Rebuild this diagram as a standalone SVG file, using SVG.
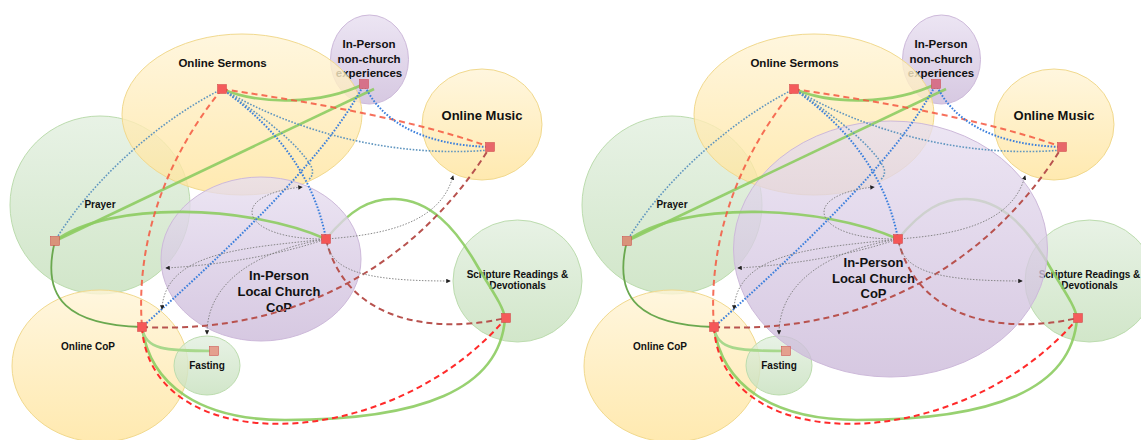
<svg xmlns="http://www.w3.org/2000/svg" xmlns:xlink="http://www.w3.org/1999/xlink" width="1141" height="440" viewBox="0 0 1141 440">
  <style>
    .lbl { font-family: "Liberation Sans", Arial, sans-serif; font-weight: bold; fill: #111; text-anchor: middle; }
    .yel { fill: url(#gYellow); stroke: #f1d98e; stroke-width: 1; fill-opacity: 0.8; }
    .grn { fill: url(#gGreen); stroke: #bcdcae; stroke-width: 1; fill-opacity: 0.8; }
    .pur { fill: url(#gPurple); stroke: #cdb9da; stroke-width: 1; fill-opacity: 0.78; }
    .ln-g { fill: none; stroke: #8dcc62; stroke-width: 2.6; stroke-opacity: 0.9; }
    .ln-gd { fill: none; stroke: #6aa84f; stroke-width: 1.8; }
    .ln-gl { fill: none; stroke: #a8d88c; stroke-width: 2.6; }
    .ln-r { fill: none; stroke: #ff2b2b; stroke-width: 2; stroke-dasharray: 6 4; }
    .ln-ro { fill: none; stroke: #f4573f; stroke-width: 2; stroke-dasharray: 6 4; stroke-opacity: 0.85; }
    .ln-b { fill: none; stroke: #b8524e; stroke-width: 2; stroke-dasharray: 6 4; }
    .ln-bl { fill: none; stroke: #3b7fdc; stroke-width: 2; stroke-dasharray: 1.6 1.6; }
    .ln-tl { fill: none; stroke: #5f95bf; stroke-width: 1.6; stroke-dasharray: 1.6 1.6; }
    .ln-k { fill: none; stroke: #7d7d7d; stroke-width: 0.9; stroke-dasharray: 1.5 1.5; marker-end: url(#arr); }
    .port { stroke: #c44; stroke-width: 0.5; }
  </style>
  <defs>
    <linearGradient id="gYellow" x1="0" y1="0" x2="0" y2="1">
      <stop offset="0" stop-color="#fff4d6"/>
      <stop offset="1" stop-color="#ffe49c"/>
    </linearGradient>
    <linearGradient id="gGreen" x1="0" y1="0" x2="0" y2="1">
      <stop offset="0" stop-color="#e2efdf"/>
      <stop offset="1" stop-color="#c6e0bc"/>
    </linearGradient>
    <linearGradient id="gPurple" x1="0" y1="0" x2="0" y2="1">
      <stop offset="0" stop-color="#e7def0"/>
      <stop offset="1" stop-color="#cbb9d9"/>
    </linearGradient>
    <marker id="arr" viewBox="0 0 6 6" refX="5" refY="3" markerWidth="4.5" markerHeight="4.5" markerUnits="userSpaceOnUse" orient="auto">
      <path d="M0,0 L6,3 L0,6 z" fill="#222"/>
    </marker>

    <!-- green link from the local church port to the scripture port, sits beneath the church ellipse -->
    <path id="link-lc-sc" class="ln-g" d="M326,239 C350,210 370,198 395,199 C430,200 455,228 475,262 C490,288 503,305 505,318"/>

    <!-- all other links of one panel -->
    <g id="link-set">
      <!-- solid green -->
      <path class="ln-g" d="M222,89 C260,105 320,105 364,84"/>
      <path class="ln-g" d="M55,241 L374,89"/>
      <path class="ln-g" d="M55,241 C110,200 250,205 326,239"/>
      <path class="ln-g" d="M505,318 C500,390 420,420 285,420 C200,420 150,385 142,327"/>
      <path class="ln-gd" d="M142,327 C70,325 40,300 55,241"/>
      <path class="ln-gl" d="M142,327 C145,350 165,351 214,351"/>
      <!-- red dashed -->
      <path class="ln-ro" d="M222,89 C280,98 400,115 490,147"/>
      <path class="ln-ro" d="M222,89 C160,165 136,250 142,327"/>
      <path class="ln-r" d="M142,327 C150,460 390,455 506,318"/>
      <!-- brown dashed -->
      <path class="ln-b" d="M142,327 C300,335 420,260 490,147"/>
      <path class="ln-b" d="M326,239 C345,320 430,335 506,318"/>
      <!-- blue dotted -->
      <path class="ln-bl" d="M364,84 C380,120 420,145 490,147"/>
      <path class="ln-bl" d="M364,84 C330,150 250,230 142,327"/>
      <path class="ln-bl" d="M222,89 C280,130 315,180 326,239"/>
      <path class="ln-tl" d="M222,89 C150,125 85,190 55,241"/>
      <path class="ln-tl" d="M222,89 C300,135 400,158 490,150"/>
      <path class="ln-tl" d="M222,89 C265,118 300,145 312,168 Q314,176 308,180"/>
      <!-- grey dotted arrows from the local church port -->
      <path class="ln-k" d="M326,239 C380,235 440,225 453,176"/>
      <path class="ln-k" d="M326,239 C330,270 360,281 450,281"/>
      <path class="ln-k" d="M326,239 C280,255 220,265 166,268"/>
      <path class="ln-k" d="M326,239 C250,248 165,250 162,309"/>
      <path class="ln-k" d="M326,239 C260,250 207,280 207,334"/>
      <path class="ln-k" d="M326,239 C240,240 225,195 302,187"/>
    </g>

    <!-- port squares of one panel -->
    <g id="port-set">
      <rect class="port" x="217.5" y="84.5" width="9" height="9" fill="#f55b5b"/>
      <rect class="port" x="359.5" y="79.5" width="9" height="9" fill="#d6718a"/>
      <rect class="port" x="485.5" y="142.5" width="9" height="9" fill="#e8676a"/>
      <rect class="port" x="50.5" y="236.5" width="9" height="9" fill="#d9937a" stroke="#c98a70"/>
      <rect class="port" x="321.5" y="234.5" width="9" height="9" fill="#f45656"/>
      <rect class="port" x="137.5" y="322.5" width="9" height="9" fill="#f55858"/>
      <rect class="port" x="209.5" y="346.5" width="9" height="9" fill="#e4a08e" stroke="#d09080"/>
      <rect class="port" x="501.5" y="313.5" width="9" height="9" fill="#f55b5b"/>
    </g>
  </defs>

  <rect x="0" y="0" width="1141" height="440" fill="#ffffff"/>

  <!-- ================= left panel ================= -->
  <g id="panel-left">
    <g id="l-nonchurch">
      <ellipse class="pur" cx="369.5" cy="59.5" rx="39" ry="44.5"/>
      <text class="lbl" font-size="11.5"><tspan x="369" y="48">In-Person</tspan><tspan x="369" y="63">non-church</tspan><tspan x="369" y="77">experiences</tspan></text>
    </g>
    <g id="l-prayer">
      <ellipse class="grn" cx="100" cy="205" rx="90" ry="89"/>
      <text class="lbl" font-size="10" x="100" y="207.5">Prayer</text>
    </g>
    <g id="l-online-cop">
      <ellipse class="yel" cx="100" cy="366" rx="88" ry="76"/>
      <text class="lbl" font-size="10" x="88" y="349.5">Online CoP</text>
    </g>
    <g id="l-fasting">
      <ellipse class="grn" cx="207" cy="365.5" rx="33" ry="29.5"/>
      <text class="lbl" font-size="10" x="207" y="368.5">Fasting</text>
    </g>
    <g id="l-scripture">
      <ellipse class="grn" cx="517.5" cy="281" rx="64.5" ry="61"/>
      <text class="lbl" font-size="10"><tspan x="517.5" y="277.5">Scripture Readings &amp;</tspan><tspan x="517.5" y="289">Devotionals</tspan></text>
    </g>
    <g id="l-online-music">
      <ellipse class="yel" cx="482" cy="124.5" rx="60" ry="55.5"/>
      <text class="lbl" font-size="13" x="482" y="120">Online Music</text>
    </g>
    <g id="l-online-sermons">
      <ellipse class="yel" cx="242" cy="114.5" rx="120" ry="80.5"/>
      <text class="lbl" font-size="11.5" x="222.5" y="67">Online Sermons</text>
    </g>
    <use href="#link-lc-sc" xlink:href="#link-lc-sc"/>
    <g id="l-local-church">
      <ellipse class="pur" cx="261" cy="259" rx="100" ry="82"/>
      <text class="lbl" font-size="13"><tspan x="279" y="279.5">In-Person</tspan><tspan x="279" y="295.5">Local Church</tspan><tspan x="279" y="311.5">CoP</tspan></text>
    </g>
    <g id="l-connectors">
      <use href="#link-set" xlink:href="#link-set"/>
    </g>
    <g id="l-ports">
      <use href="#port-set" xlink:href="#port-set"/>
    </g>
  </g>

  <!-- ================= right panel ================= -->
  <g id="panel-right" transform="translate(572,0)">
    <g id="r-nonchurch">
      <ellipse class="pur" cx="369.5" cy="59.5" rx="39" ry="44.5"/>
      <text class="lbl" font-size="11.5"><tspan x="369" y="48">In-Person</tspan><tspan x="369" y="63">non-church</tspan><tspan x="369" y="77">experiences</tspan></text>
    </g>
    <g id="r-prayer">
      <ellipse class="grn" cx="100" cy="205" rx="90" ry="89"/>
      <text class="lbl" font-size="10" x="100" y="207.5">Prayer</text>
    </g>
    <g id="r-online-cop">
      <ellipse class="yel" cx="100" cy="366" rx="88" ry="76"/>
      <text class="lbl" font-size="10" x="88" y="349.5">Online CoP</text>
    </g>
    <g id="r-fasting">
      <ellipse class="grn" cx="207" cy="365.5" rx="33" ry="29.5"/>
      <text class="lbl" font-size="10" x="207" y="368.5">Fasting</text>
    </g>
    <g id="r-scripture">
      <ellipse class="grn" cx="517.5" cy="281" rx="64.5" ry="61"/>
      <text class="lbl" font-size="10"><tspan x="517.5" y="277.5">Scripture Readings &amp;</tspan><tspan x="517.5" y="289">Devotionals</tspan></text>
    </g>
    <g id="r-online-music">
      <ellipse class="yel" cx="482" cy="124.5" rx="60" ry="55.5"/>
      <text class="lbl" font-size="13" x="482" y="120">Online Music</text>
    </g>
    <g id="r-online-sermons">
      <ellipse class="yel" cx="242" cy="114.5" rx="120" ry="80.5"/>
      <text class="lbl" font-size="11.5" x="222.5" y="67">Online Sermons</text>
    </g>
    <use href="#link-lc-sc" xlink:href="#link-lc-sc"/>
    <g id="r-local-church">
      <ellipse class="pur" cx="318.5" cy="249" rx="157" ry="128"/>
      <text class="lbl" font-size="13"><tspan x="301.5" y="266.5">In-Person</tspan><tspan x="301.5" y="282.5">Local Church</tspan><tspan x="301.5" y="297.5">CoP</tspan></text>
    </g>
    <g id="r-connectors">
      <use href="#link-set" xlink:href="#link-set"/>
    </g>
    <g id="r-ports">
      <use href="#port-set" xlink:href="#port-set"/>
    </g>
  </g>
</svg>
